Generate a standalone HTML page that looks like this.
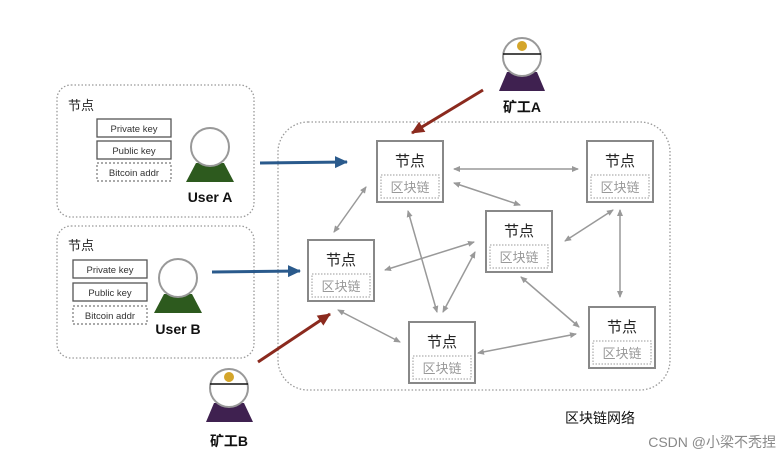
<!DOCTYPE html>
<html><head><meta charset="utf-8"><style>
body{margin:0;background:#fff}
svg text{font-family:"Liberation Sans","Noto Sans CJK SC",sans-serif}
</style></head><body>
<svg width="784" height="463" viewBox="0 0 784 463" xmlns="http://www.w3.org/2000/svg">
<defs>
<marker id="g" markerWidth="8" markerHeight="8" refX="6" refY="3" orient="auto-start-reverse" markerUnits="userSpaceOnUse"><path d="M0,0L7,3L0,6z" fill="#999"/></marker>
<marker id="b" markerWidth="14" markerHeight="14" refX="12" refY="6" orient="auto" markerUnits="userSpaceOnUse"><path d="M0,0L13,6L0,12z" fill="#2a5a8c"/></marker>
<marker id="r" markerWidth="14" markerHeight="14" refX="12" refY="6" orient="auto" markerUnits="userSpaceOnUse"><path d="M0,0L13,6L0,12z" fill="#8b2a1e"/></marker>
<g id="usr"><circle cx="0" cy="0" r="20" fill="#fff" stroke="#999" stroke-width="2"/></g>
</defs>
<g fill="none" stroke="#999" stroke-width="1.3" stroke-dasharray="1.5,2">
<rect x="57" y="85" width="197" height="132" rx="14"/>
<rect x="57" y="226" width="197" height="132" rx="14"/>
<rect x="278" y="122" width="392" height="268" rx="30"/>
</g>
<g font-size="13" fill="#222"><text x="68" y="110">节点</text><text x="68" y="250">节点</text></g>
<g fill="none" stroke="#555" stroke-width="1.3">
<rect x="97" y="119" width="74" height="18"/><rect x="97" y="141" width="74" height="18"/>
<rect x="73" y="260" width="74" height="18"/><rect x="73" y="283" width="74" height="18"/>
</g>
<g fill="none" stroke="#777" stroke-width="1.2" stroke-dasharray="2,2">
<rect x="97" y="163" width="74" height="18"/><rect x="73" y="306" width="74" height="18"/>
</g>
<g font-size="9.5" fill="#333" text-anchor="middle">
<text x="134" y="132">Private key</text><text x="134" y="154">Public key</text><text x="134" y="176">Bitcoin addr</text>
<text x="110" y="273">Private key</text><text x="110" y="296">Public key</text><text x="110" y="319">Bitcoin addr</text>
</g>
<!-- users -->
<path d="M196,163L224,163L234,182L186,182z" fill="#2d5a1e"/>
<circle cx="210" cy="147" r="19" fill="#fff" stroke="#999" stroke-width="2"/>
<text x="210" y="202" font-size="14" font-weight="bold" text-anchor="middle" fill="#111">User A</text>
<path d="M164,294L192,294L202,313L154,313z" fill="#2d5a1e"/>
<circle cx="178" cy="278" r="19" fill="#fff" stroke="#999" stroke-width="2"/>
<text x="178" y="334" font-size="14" font-weight="bold" text-anchor="middle" fill="#111">User B</text>
<!-- miners -->
<path d="M507,72L537,72L545,91L499,91z" fill="#3f2150"/>
<circle cx="522" cy="57" r="19" fill="#fff" stroke="#999" stroke-width="2"/>
<line x1="503" y1="54" x2="541" y2="54" stroke="#111" stroke-width="1.5"/>
<circle cx="522" cy="46" r="5" fill="#d4a52a"/>
<text x="522" y="112" font-size="14" font-weight="bold" text-anchor="middle" fill="#111">矿工A</text>
<path d="M214,403L244,403L253,422L206,422z" fill="#3f2150"/>
<circle cx="229" cy="388" r="19" fill="#fff" stroke="#999" stroke-width="2"/>
<line x1="210" y1="384" x2="248" y2="384" stroke="#111" stroke-width="1.5"/>
<circle cx="229" cy="377" r="5" fill="#d4a52a"/>
<text x="229" y="446" font-size="14" font-weight="bold" text-anchor="middle" fill="#111">矿工B</text>
<!-- nodes -->
<g id="nodes">
<g transform="translate(377,141)"><rect width="66" height="61" fill="#fff" stroke="#888" stroke-width="2"/><rect x="4" y="34" width="58" height="23" fill="none" stroke="#999" stroke-dasharray="1.5,1.5"/><text x="33" y="25" font-size="15" text-anchor="middle" fill="#222">节点</text><text x="33" y="51" font-size="13" text-anchor="middle" fill="#999">区块链</text></g>
<g transform="translate(587,141)"><rect width="66" height="61" fill="#fff" stroke="#888" stroke-width="2"/><rect x="4" y="34" width="58" height="23" fill="none" stroke="#999" stroke-dasharray="1.5,1.5"/><text x="33" y="25" font-size="15" text-anchor="middle" fill="#222">节点</text><text x="33" y="51" font-size="13" text-anchor="middle" fill="#999">区块链</text></g>
<g transform="translate(486,211)"><rect width="66" height="61" fill="#fff" stroke="#888" stroke-width="2"/><rect x="4" y="34" width="58" height="23" fill="none" stroke="#999" stroke-dasharray="1.5,1.5"/><text x="33" y="25" font-size="15" text-anchor="middle" fill="#222">节点</text><text x="33" y="51" font-size="13" text-anchor="middle" fill="#999">区块链</text></g>
<g transform="translate(308,240)"><rect width="66" height="61" fill="#fff" stroke="#888" stroke-width="2"/><rect x="4" y="34" width="58" height="23" fill="none" stroke="#999" stroke-dasharray="1.5,1.5"/><text x="33" y="25" font-size="15" text-anchor="middle" fill="#222">节点</text><text x="33" y="51" font-size="13" text-anchor="middle" fill="#999">区块链</text></g>
<g transform="translate(409,322)"><rect width="66" height="61" fill="#fff" stroke="#888" stroke-width="2"/><rect x="4" y="34" width="58" height="23" fill="none" stroke="#999" stroke-dasharray="1.5,1.5"/><text x="33" y="25" font-size="15" text-anchor="middle" fill="#222">节点</text><text x="33" y="51" font-size="13" text-anchor="middle" fill="#999">区块链</text></g>
<g transform="translate(589,307)"><rect width="66" height="61" fill="#fff" stroke="#888" stroke-width="2"/><rect x="4" y="34" width="58" height="23" fill="none" stroke="#999" stroke-dasharray="1.5,1.5"/><text x="33" y="25" font-size="15" text-anchor="middle" fill="#222">节点</text><text x="33" y="51" font-size="13" text-anchor="middle" fill="#999">区块链</text></g>
</g>
<g stroke="#999" stroke-width="1.5" marker-start="url(#g)" marker-end="url(#g)">
<line x1="454" y1="169" x2="578" y2="169"/>
<line x1="454" y1="183" x2="520" y2="205"/>
<line x1="366" y1="187" x2="334" y2="232"/>
<line x1="408" y1="211" x2="437" y2="312"/>
<line x1="443" y1="312" x2="475" y2="252"/>
<line x1="385" y1="270" x2="474" y2="242"/>
<line x1="338" y1="310" x2="400" y2="342"/>
<line x1="521" y1="277" x2="579" y2="327"/>
<line x1="478" y1="353" x2="576" y2="334"/>
<line x1="565" y1="241" x2="613" y2="210"/>
<line x1="620" y1="210" x2="620" y2="297"/>
</g>
<g stroke-width="3" fill="none">
<line x1="260" y1="163" x2="347" y2="162" stroke="#2a5a8c" marker-end="url(#b)"/>
<line x1="212" y1="272" x2="300" y2="271" stroke="#2a5a8c" marker-end="url(#b)"/>
<line x1="483" y1="90" x2="412" y2="133" stroke="#8b2a1e" marker-end="url(#r)"/>
<line x1="258" y1="362" x2="330" y2="314" stroke="#8b2a1e" marker-end="url(#r)"/>
</g>
<text x="600" y="423" font-size="14" text-anchor="middle" fill="#111">区块链网络</text>
<text x="776" y="447" font-size="14" text-anchor="end" fill="#888">CSDN @小梁不秃捏</text>
</svg>
</body></html>
